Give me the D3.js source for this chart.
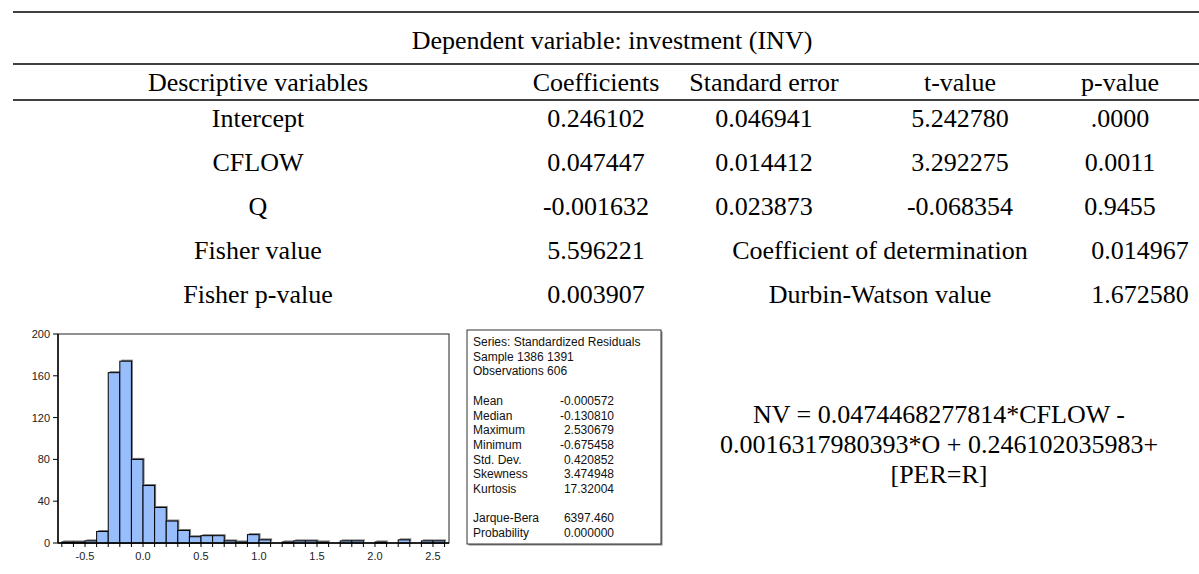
<!DOCTYPE html>
<html>
<head>
<meta charset="utf-8">
<script src="https://cdn.jsdelivr.net/npm/d3@7"></script>
<style>
  html, body { margin: 0; padding: 0; background: #fff; }
  svg { display: block; }
</style>
</head>
<body>
<svg id="chart" width="1199" height="574"></svg>
<script>
// ---- Regression table ----
const tableTitle = "Dependent variable: investment (INV)";
const columnHeaders = ["Descriptive variables", "Coefficients", "Standard error", "t-value", "p-value"];
const variables = ["Intercept", "CFLOW", "Q"];
const coefficients = ["0.246102", "0.047447", "-0.001632"];
const standardErrors = ["0.046941", "0.014412", "0.023873"];
const tValues = ["5.242780", "3.292275", "-0.068354"];
const pValues = [".0000", "0.0011", "0.9455"];
const fitLabels = ["Fisher value", "Fisher p-value"];
const fitValues = ["5.596221", "0.003907"];
const fitLabels2 = ["Coefficient of determination", "Durbin-Watson value"];
const fitValues2 = ["0.014967", "1.672580"];

// ---- Residual histogram (bin lower edges and counts) ----
const binLow = [-0.7, -0.6, -0.5, -0.4, -0.3, -0.2, -0.1, 0.0, 0.1, 0.2, 0.3,
                0.4, 0.5, 0.6, 0.7, 0.8, 0.9, 1.0, 1.1, 1.2, 1.3, 1.4, 1.5,
                1.6, 1.7, 1.8, 1.9, 2.0, 2.1, 2.2, 2.3, 2.4, 2.5];
const binCounts = [1, 1, 2, 11, 163, 174, 80, 55, 34, 21, 12,
                   6, 7, 7, 2, 1, 8, 3, 0, 1, 2, 2, 1,
                   0, 2, 2, 0, 1, 0, 3, 0, 2, 2];
const binWidth = 0.1;
const yTicks = [0, 40, 80, 120, 160, 200];
const xTicks = [-0.5, 0.0, 0.5, 1.0, 1.5, 2.0, 2.5];

// ---- Residual statistics box ----
const seriesInfo = ["Series: Standardized Residuals", "Sample 1386 1391", "Observations 606"];
const statNames = ["Mean", "Median", "Maximum", "Minimum", "Std. Dev.", "Skewness", "Kurtosis"];
const statValues = ["-0.000572", "-0.130810", "2.530679", "-0.675458", "0.420852", "3.474948", "17.32004"];
const testNames = ["Jarque-Bera", "Probability"];
const testValues = ["6397.460", "0.000000"];

// ---- Estimated equation ----
const equationLines = ["NV = 0.0474468277814*CFLOW -", "0.0016317980393*O + 0.246102035983+", "[PER=R]"];

const svg = d3.select("#chart");
const serif = "'Liberation Serif', 'Times New Roman', Times, serif";
const sans = "'Liberation Sans', Arial, Helvetica, sans-serif";

// ================= Table =================
const table = svg.append("g").attr("font-family", serif).attr("font-size", 26).attr("fill", "#000");
const colX = [258, 596, 764, 960, 1120];
const rules = [12, 64, 100];
rules.forEach(y => table.append("line")
  .attr("x1", 13).attr("x2", 1199).attr("y1", y).attr("y2", y)
  .attr("stroke", "#000").attr("stroke-width", 1.6));

table.append("text").attr("x", 612).attr("y", 49).attr("text-anchor", "middle").text(tableTitle);

table.selectAll("text.colhead").data(columnHeaders).join("text")
  .attr("class", "colhead")
  .attr("x", (d, i) => colX[i]).attr("y", 91).attr("text-anchor", "middle").text(d => d);

const rowY = [127, 171, 215, 259, 303];
const coefRows = variables.map((v, i) => [v, coefficients[i], standardErrors[i], tValues[i], pValues[i]]);
coefRows.forEach((row, r) => {
  table.selectAll(null).data(row).join("text")
    .attr("x", (d, i) => colX[i]).attr("y", rowY[r]).attr("text-anchor", "middle").text(d => d);
});
fitLabels.forEach((lab, i) => {
  const y = rowY[3 + i];
  table.append("text").attr("x", colX[0]).attr("y", y).attr("text-anchor", "middle").text(lab);
  table.append("text").attr("x", colX[1]).attr("y", y).attr("text-anchor", "middle").text(fitValues[i]);
  table.append("text").attr("x", 880).attr("y", y).attr("text-anchor", "middle").text(fitLabels2[i]);
  table.append("text").attr("x", 1140).attr("y", y).attr("text-anchor", "middle").text(fitValues2[i]);
});

// ================= Histogram =================
const hist = { left: 58, right: 449, top: 334, bottom: 543 };
const x = d3.scaleLinear().domain([-0.733, 2.638]).range([hist.left, hist.right]);
const y = d3.scaleLinear().domain([0, 200]).range([hist.bottom, hist.top]);
const hg = svg.append("g");

hg.append("rect")
  .attr("x", hist.left).attr("y", hist.top)
  .attr("width", hist.right - hist.left).attr("height", hist.bottom - hist.top)
  .attr("fill", "#fff").attr("stroke", "#222").attr("stroke-width", 1);

const bins = binLow.map((lo, i) => ({ lo, hi: lo + binWidth, n: binCounts[i] }));
const filled = bins.filter(d => d.n > 0);
// drop shadow behind each bar
hg.selectAll("rect.shadow").data(filled).join("rect")
  .attr("class", "shadow")
  .attr("x", d => x(d.lo) + 1.5).attr("y", d => y(d.n) - 1.5)
  .attr("width", d => x(d.hi) - x(d.lo)).attr("height", d => y(0) - y(d.n))
  .attr("fill", "#7a7a7a");
hg.selectAll("rect.bar").data(filled).join("rect")
  .attr("class", "bar")
  .attr("x", d => x(d.lo)).attr("y", d => y(d.n))
  .attr("width", d => x(d.hi) - x(d.lo)).attr("height", d => y(0) - y(d.n))
  .attr("fill", "#98bdfb").attr("stroke", "#000").attr("stroke-width", 1);

// axes
const xAxisTicks = binLow.concat([2.6]);
hg.append("line").attr("x1", hist.left).attr("x2", hist.right)
  .attr("y1", hist.bottom).attr("y2", hist.bottom).attr("stroke", "#000").attr("stroke-width", 1.4);
hg.append("line").attr("x1", hist.left).attr("x2", hist.left)
  .attr("y1", hist.top).attr("y2", hist.bottom).attr("stroke", "#000").attr("stroke-width", 1.4);
hg.selectAll("line.xt").data(xAxisTicks).join("line")
  .attr("class", "xt")
  .attr("x1", d => x(d)).attr("x2", d => x(d))
  .attr("y1", hist.bottom).attr("y2", hist.bottom + 4)
  .attr("stroke", "#000").attr("stroke-width", 1);
hg.selectAll("line.yt").data(yTicks).join("line")
  .attr("class", "yt")
  .attr("x1", hist.left - 5).attr("x2", hist.left)
  .attr("y1", d => y(d)).attr("y2", d => y(d))
  .attr("stroke", "#000").attr("stroke-width", 1);
hg.selectAll("text.yl").data(yTicks).join("text")
  .attr("class", "yl")
  .attr("x", hist.left - 8).attr("y", d => y(d) + 4)
  .attr("text-anchor", "end").attr("font-family", sans).attr("font-size", 11).attr("fill", "#222")
  .text(d => d);
hg.selectAll("text.xl").data(xTicks).join("text")
  .attr("class", "xl")
  .attr("x", d => x(d)).attr("y", hist.bottom + 17)
  .attr("text-anchor", "middle").attr("font-family", sans).attr("font-size", 11).attr("fill", "#222")
  .text(d => d.toFixed(1));

// ================= Statistics box =================
const sb = svg.append("g").attr("font-family", sans).attr("font-size", 12).attr("fill", "#111");
sb.append("rect").attr("x", 468.5).attr("y", 331.5).attr("width", 194).attr("height", 214)
  .attr("fill", "#888");
sb.append("rect").attr("x", 467).attr("y", 330).attr("width", 194).attr("height", 214)
  .attr("fill", "#fff").attr("stroke", "#333").attr("stroke-width", 1);
const lineH = 14.7, firstBase = 346, labX = 473, valX = 614;
seriesInfo.forEach((t, i) => sb.append("text").attr("x", labX).attr("y", firstBase + i * lineH).text(t));
statNames.forEach((t, i) => {
  const yy = firstBase + (4 + i) * lineH;
  sb.append("text").attr("x", labX).attr("y", yy).text(t);
  sb.append("text").attr("x", valX).attr("y", yy).attr("text-anchor", "end").text(statValues[i]);
});
testNames.forEach((t, i) => {
  const yy = firstBase + (12 + i) * lineH;
  sb.append("text").attr("x", labX).attr("y", yy).text(t);
  sb.append("text").attr("x", valX).attr("y", yy).attr("text-anchor", "end").text(testValues[i]);
});

// ================= Equation =================
svg.append("g").attr("font-family", serif).attr("font-size", 26).attr("fill", "#000")
  .selectAll("text").data(equationLines).join("text")
  .attr("x", 939).attr("y", (d, i) => 423 + i * 30)
  .attr("text-anchor", "middle").text(d => d);
</script>
</body>
</html>
